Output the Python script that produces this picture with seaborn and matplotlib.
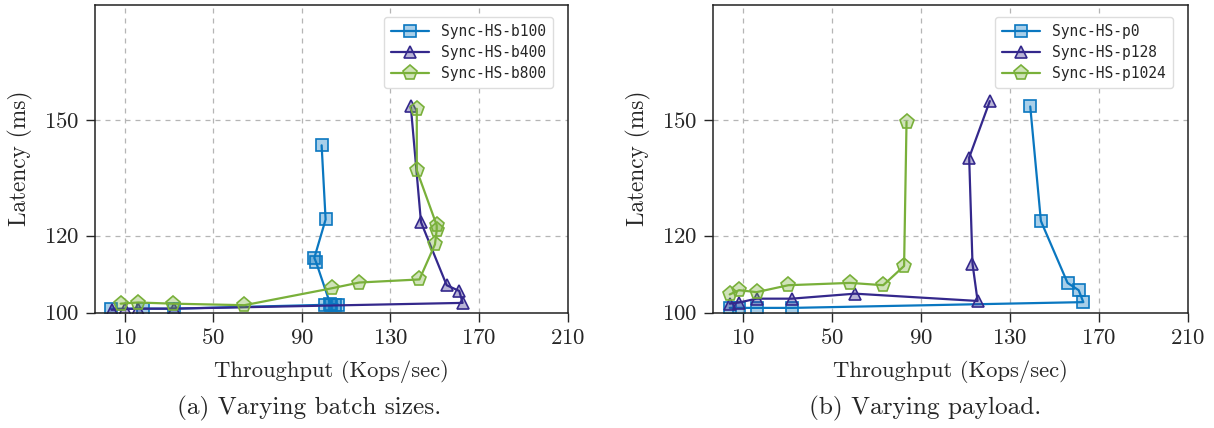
import matplotlib
matplotlib.use("Agg")
import matplotlib.pyplot as plt
import matplotlib.colors as mcolors
import seaborn as sns

# Données
## (a) taille de batch
b100_x = [3.6, 18.4, 32.4, 100.5, 103.0, 105.0, 106.5, 102.8, 96.4, 95.6, 100.7, 98.9]
b100_y = [101.0, 101.0, 101.0, 102.0, 102.0, 102.0, 102.0, 102.2, 113.1, 114.2, 124.2, 143.5]
b400_x = [4.0, 10.0, 16.0, 32.0, 162.6, 161.1, 155.4, 143.8, 139.2]
b400_y = [100.7, 100.9, 101.0, 101.0, 102.5, 105.6, 107.1, 123.5, 153.6]
b800_x = [8.1, 16.0, 31.8, 64.0, 103.5, 115.9, 143.1, 150.1, 150.9, 150.9, 141.9, 141.9]
b800_y = [102.3, 102.6, 102.3, 101.9, 106.3, 107.8, 108.6, 117.7, 121.4, 122.7, 137.0, 153.0]

## (b) taille de payload
p0_x = [3.9, 8.1, 16.0, 32.1, 163.1, 161.0, 156.0, 144.0, 139.2]
p0_y = [101.2, 101.2, 101.2, 101.2, 102.7, 105.8, 107.7, 123.8, 153.6]
p128_x = [3.9, 8.1, 16.0, 31.8, 60.3, 115.5, 113.2, 111.7, 121.0]
p128_y = [102.3, 102.6, 103.6, 103.6, 104.9, 103.0, 112.7, 140.3, 155.0]
p1024_x = [3.9, 8.1, 16.0, 30.3, 58.1, 73.0, 82.4, 83.5]
p1024_y = [104.7, 105.8, 105.3, 107.1, 107.7, 107.1, 112.1, 149.6]

x_ticks = [10, 50, 90, 130, 170, 210]
y_ticks = [100, 120, 150]

BLUE = "#0a77c0"
PURPLE = "#34288c"
GREEN = "#79b03a"

sns.set_style("ticks")
plt.rcParams["font.family"] = ["cmr10", "DejaVu Serif"]
plt.rcParams["axes.formatter.use_mathtext"] = True
plt.rcParams["mathtext.fontset"] = "cm"

fig = plt.figure(figsize=(12.14, 4.28), dpi=100)
ax1 = fig.add_axes([95 / 1214, 1 - 312.5 / 428, (567.5 - 95) / 1214, (312.5 - 5) / 428])
ax2 = fig.add_axes([713.3 / 1214, 1 - 312.5 / 428, (1187.5 - 713.3) / 1214, (312.5 - 5) / 428])


def trace(ax, xs, ys, color, marker, label, ms):
    face = mcolors.to_rgba(color, 0.35)
    sns.lineplot(x=xs, y=ys, ax=ax, sort=False, estimator=None, color=color,
                 marker=marker, markersize=ms, markerfacecolor=face,
                 markeredgecolor=color, markeredgewidth=1.2, linewidth=1.6,
                 label=label)


trace(ax1, b100_x, b100_y, BLUE, "s", "Sync-HS-b100", 8)
trace(ax1, b400_x, b400_y, PURPLE, "^", "Sync-HS-b400", 9)
trace(ax1, b800_x, b800_y, GREEN, "p", "Sync-HS-b800", 11)

trace(ax2, p0_x, p0_y, BLUE, "s", "Sync-HS-p0", 8)
trace(ax2, p128_x, p128_y, PURPLE, "^", "Sync-HS-p128", 9)
trace(ax2, p1024_x, p1024_y, GREEN, "p", "Sync-HS-p1024", 11)

for ax in (ax1, ax2):
    ax.set_xlim(-3.5, 210)
    ax.set_ylim(100, 180)
    ax.set_xticks(x_ticks)
    ax.set_yticks(y_ticks)
    ax.tick_params(labelsize=16.5, length=6.5, width=1, direction="out", pad=5)
    ax.grid(True, linestyle=(0, (4, 4)), color="#b5b5b5", linewidth=0.9)
    for s in ax.spines.values():
        s.set_color("#222222")
        s.set_linewidth(1.1)
    ax.set_xlabel("Throughput (Kops/sec)", fontsize=16.3, labelpad=8)
    ax.set_ylabel("Latency (ms)", fontsize=16.8, labelpad=8)
    ax.legend(loc="upper right", prop={"family": "DejaVu Sans Mono", "size": 10.5},
              frameon=True, fancybox=True, edgecolor="#dddddd", framealpha=1,
              handlelength=2.6, borderpad=0.5, labelspacing=0.4,
              bbox_to_anchor=(0.985, 0.985))

fig.text(309 / 1214, 1 - 408 / 428, "(a) Varying batch sizes.",
         ha="center", va="center", fontsize=18.2)
fig.text(925 / 1214, 1 - 408 / 428, "(b) Varying payload.",
         ha="center", va="center", fontsize=18.2)

fig.savefig("out.png", dpi=100)
